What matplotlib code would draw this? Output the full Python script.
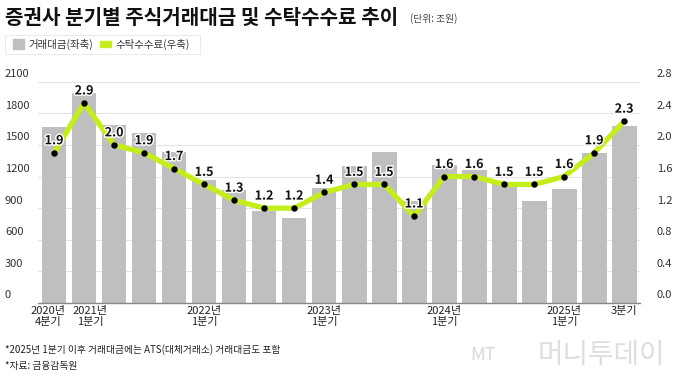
import matplotlib.pyplot as plt
import matplotlib.patches as mpatches
import matplotlib.patheffects as pe
from matplotlib.transforms import blended_transform_factory

plt.rcParams['font.family'] = ['Noto Sans CJK KR', 'DejaVu Sans']

# 분기별 데이터 (2020년 4분기 ~ 2025년 3분기)
quarters = ['20Q4', '21Q1', '21Q2', '21Q3', '21Q4', '22Q1', '22Q2', '22Q3', '22Q4',
            '23Q1', '23Q2', '23Q3', '23Q4', '24Q1', '24Q2', '24Q3', '24Q4',
            '25Q1', '25Q2', '25Q3']
volume = [1670, 1990, 1690, 1615, 1430, 1165, 1070, 875, 810, 1095,
          1300, 1430, 970, 1305, 1265, 1150, 965, 1085, 1420, 1680]
fee = [1.9, 2.9, 2.0, 1.9, 1.7, 1.5, 1.3, 1.2, 1.2, 1.4,
       1.5, 1.5, 1.1, 1.6, 1.6, 1.5, 1.5, 1.6, 1.9, 2.3]
# 원 그래픽에서 2.9는 축 범위 안에 눌려서 그려져 있음
fee_drawn = [1.9, 2.53, 2.0, 1.9, 1.7, 1.5, 1.3, 1.2, 1.2, 1.4,
             1.5, 1.5, 1.1, 1.6, 1.6, 1.5, 1.5, 1.6, 1.9, 2.3]

left_ticks = [0, 300, 600, 900, 1200, 1500, 1800, 2100]
right_ticks = [0.0, 0.4, 0.8, 1.2, 1.6, 2.0, 2.4, 2.8]

xlabel_pos = [0, 1, 5, 9, 13, 17, 19]
xlabel_txt = ['2020년\n4분기', '2021년\n1분기', '2022년\n1분기', '2023년\n1분기',
              '2024년\n1분기', '2025년\n1분기', '3분기']

BAR = '#bfbfbf'
LINE = '#c3ee1c'

W, H = 680, 383
fig = plt.figure(figsize=(6.8, 3.83), dpi=100)
fig.patch.set_facecolor('white')

ax = fig.add_axes([38 / W, 1 - 303 / H, 602 / W, (303 - 81.7) / H])
ax2 = ax.twinx()

x = list(range(len(quarters)))
ax.bar(x, volume, width=0.83, color=BAR, zorder=2)
ax.set_xlim(-0.533, 19.53)
ax.set_ylim(0, 2100)
ax2.set_ylim(0, 2.8)

for a in (ax, ax2):
    for s in a.spines.values():
        s.set_visible(False)
    a.set_xticks([])
    a.set_yticks([])

ax.spines['bottom'].set_visible(True)
ax.spines['bottom'].set_color('#888888')
ax.spines['bottom'].set_linewidth(1.0)

for t in left_ticks[1:]:
    ax.axhline(t, color='#e3e3e3', lw=0.8, zorder=0)

tr = ax.get_yaxis_transform()
for t in left_ticks:
    ax.text(-0.055, t + 25, str(t), transform=tr, ha='left', va='bottom',
            fontsize=8, color='#333333')
tr2 = ax2.get_yaxis_transform()
for t in right_ticks:
    ax2.text(1.028, t + 0.033, f'{t:.1f}', transform=tr2, ha='left', va='bottom',
             fontsize=8, color='#333333')

ax2.plot(x, fee_drawn, color=LINE, lw=3.8, solid_joinstyle='round',
         solid_capstyle='round', zorder=3)
ax2.plot(x, fee_drawn, 'o', color='black', ms=3.6, zorder=4)
for xi, yv, lab in zip(x, fee_drawn, fee):
    ax2.annotate(f'{lab:.1f}', (xi, yv), xytext=(0, 4), textcoords='offset points',
                 ha='center', va='bottom', fontsize=9, fontweight='bold',
                 color='#111111', zorder=5,
                 path_effects=[pe.withStroke(linewidth=2, foreground='white')])

# 앞의 두 라벨은 붙어 있어서 살짝 벌림
nudge = [-0.2, 0.2, 0, 0, 0, 0, 0]
trx = blended_transform_factory(ax.transData, fig.transFigure)
for p, lab, dx in zip(xlabel_pos, xlabel_txt, nudge):
    fig.text(p + dx, 1 - 306 / H, lab, transform=trx, ha='center', va='top',
             fontsize=8, color='#222222', linespacing=1.1)

# 제목, 단위
fig.text(5 / W, 1 - 17 / H, '증권사 분기별 주식거래대금 및 수탁수수료 추이',
         ha='left', va='center', fontsize=14.5, fontweight='bold', color='#111111')
fig.text(410 / W, 1 - 19 / H, '(단위: 조원)', ha='left', va='center',
         fontsize=7, color='#444444')

# 범례
fig.patches.append(mpatches.Rectangle((5 / W, 1 - 54 / H), 195 / W, 19 / H,
                                      transform=fig.transFigure, fill=False,
                                      ec='#e6e6e6', lw=0.6))
fig.patches.append(mpatches.Rectangle((13 / W, 1 - 49 / H), 11 / W, 10 / H,
                                      transform=fig.transFigure, color=BAR))
fig.text(28 / W, 1 - 44.5 / H, '거래대금(좌축)', ha='left', va='center',
         fontsize=7.5, color='#333333')
fig.patches.append(mpatches.Rectangle((100 / W, 1 - 47 / H), 11 / W, 6 / H,
                                      transform=fig.transFigure, color=LINE))
fig.text(115 / W, 1 - 44.5 / H, '수탁수수료(우축)', ha='left', va='center',
         fontsize=7.5, color='#333333')

# 주석
fig.text(5 / W, 1 - 350 / H, '*2025년 1분기 이후 거래대금에는 ATS(대체거래소) 거래대금도 포함',
         ha='left', va='center', fontsize=7, color='#222222')
fig.text(5 / W, 1 - 366 / H, '*자료: 금융감독원', ha='left', va='center',
         fontsize=7, color='#222222')

# 워터마크
fig.text(470 / W, 1 - 355 / H, 'MT', ha='left', va='center', fontsize=13,
         style='italic', color='#d8d8d8')
fig.text(665 / W, 1 - 355 / H, '머니투데이', ha='right', va='center',
         fontsize=20, color='#dedede')

fig.savefig('out.png', dpi=100)
